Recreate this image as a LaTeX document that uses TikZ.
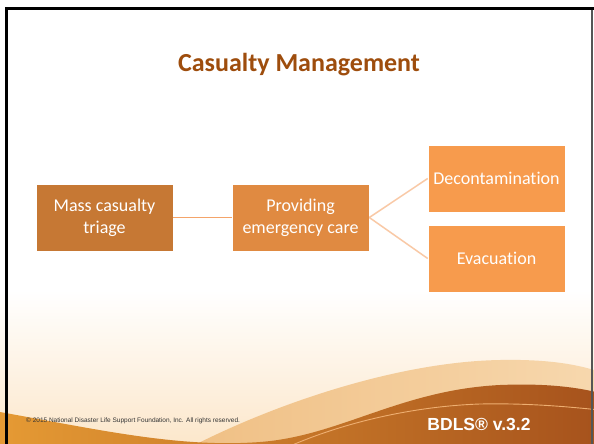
\documentclass[tikz,border=0pt]{standalone}
\usepackage{fontspec}
\setmainfont{Carlito}[Ligatures={NoCommon}]
\newfontfamily\arialfont{Liberation Sans}

\definecolor{titlebrown}{HTML}{9E4D0D}
\definecolor{boxA}{HTML}{C67834}
\definecolor{boxB}{HTML}{E08A41}
\definecolor{boxC}{HTML}{F79B4D}
\definecolor{linkA}{HTML}{F4A46A}
\definecolor{linkB}{HTML}{F9C9A6}
\definecolor{creamlow}{HTML}{FCE7CB}
\definecolor{tanA}{HTML}{EFBD80}
\definecolor{tanB}{HTML}{F7D8AE}
\definecolor{waveA}{HTML}{E59A34}
\definecolor{waveB}{HTML}{CC7B2A}
\definecolor{waveC}{HTML}{A6521C}
\definecolor{waveline}{HTML}{EEAE70}
\definecolor{framegray}{HTML}{555555}

\tikzset{
  stepbox/.style={rectangle, draw=white, line width=0.6pt, minimum width=137pt,
    minimum height=67pt, inner sep=2pt, align=center, text=white,
    font=\fontsize{18}{21.6}\selectfont},
  link/.style={line width=1.5pt},
}

\begin{document}
\begin{tikzpicture}[x=1pt,y=-1pt]
\useasboundingbox (0,0) rectangle (594,444);
\fill[white] (0,0) rectangle (594,444);

% footer background and waves
\begin{scope}
  \clip (0,0) rectangle (594,444);
  \shade[top color=white, bottom color=creamlow] (0,290) rectangle (594,444);
  \shade[left color=tanA, right color=tanB]
    (150,470) .. controls (230,420) and (380,362) .. (500,360)
    .. controls (550,359) and (580,365) .. (600,372)
    -- (600,450) -- (150,450) -- cycle;
  \shade[left color=waveA, middle color=waveB, right color=waveC]
    (0,412) .. controls (100,430) and (180,448) .. (260,442)
    .. controls (340,436) and (400,390) .. (500,385)
    .. controls (550,383) and (580,388) .. (600,393)
    -- (600,450) -- (0,450) -- cycle;
  \draw[waveline, line width=0.9pt]
    (290,446) .. controls (350,420) and (420,406) .. (480,404)
    .. controls (530,403) and (570,407) .. (600,410);
\end{scope}

% slide frame
\draw[black, line width=3pt] (6,444) -- (6,8.5) -- (594,8.5);
\draw[framegray, line width=1.2pt] (592,10) -- (592,444);

% title
\node[anchor=base, inner sep=0pt, text=titlebrown,
      font=\bfseries\fontsize{26}{31}\selectfont] (title) at (299,71) {Casualty Management};

% process boxes
\node[stepbox, fill=boxA] (triage) at (104.5,217.5) {Mass casualty\\triage};
\node[stepbox, fill=boxB] (care) at (300.5,217.5) {Providing\\emergency care};
\node[stepbox, fill=boxC] (decon) at (496.5,178.5) {Decontamination};
\node[stepbox, fill=boxC] (evac) at (496.5,258.5) {Evacuation};

% connectors
\draw[link, linkA] (triage.east) -- (care.west);
\draw[link, linkB] (care.east) -- (decon.west);
\draw[link, linkB] (care.east) -- (evac.west);

% footer texts
\node[anchor=base west, inner sep=0pt, text=black!80,
      font=\arialfont\fontsize{6.5}{7}\selectfont] (copyright) at (26,422)
  {© 2015 National Disaster Life Support Foundation, Inc. All rights reserved.};
\node[anchor=base, inner sep=0pt, text=white,
      font=\arialfont\bfseries\fontsize{17.5}{20}\selectfont] (version) at (479,430)
  {BDLS® v.3.2};
\end{tikzpicture}
\end{document}
